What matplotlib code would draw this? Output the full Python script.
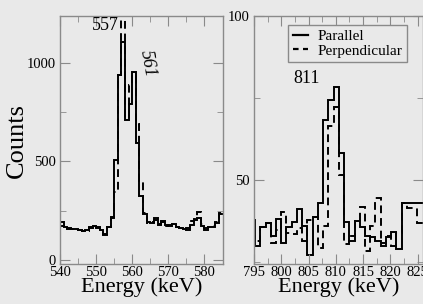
import numpy as np
import matplotlib
matplotlib.use('Agg')
import matplotlib.pyplot as plt
from matplotlib.ticker import MultipleLocator

plt.rcParams['font.family'] = ['Liberation Serif', 'DejaVu Serif']

# left panel: 557 / 561 keV doublet, 1 keV bins starting at 540
left_bins = np.arange(540, 585)
left_parallel = [170, 165, 160, 158, 155, 152, 146, 150, 160, 173,
                 165, 150, 130, 165, 216, 505, 941, 1110, 713, 790,
                 955, 595, 325, 233, 190, 185, 210, 177, 195, 175,
                 170, 180, 165, 160, 158, 150, 175, 200, 210, 170,
                 150, 165, 165, 185, 230]
left_perp = [190, 170, 158, 155, 152, 150, 145, 148, 165, 170,
             160, 148, 128, 168, 210, 345, 940, 1250, 720, 890,
             940, 690, 400, 235, 185, 190, 200, 180, 190, 170,
             175, 172, 168, 160, 155, 160, 195, 205, 245, 180,
             160, 165, 170, 190, 240]

# right panel: 811 keV line
right_start = 794.24
right_width = 0.96
right_parallel = [38, 30.1, 35.7, 37, 32.9, 38.2, 30.9, 35.7, 37.3, 41.2, 36.2, 27.1, 38.7,
                  43.2, 68.2, 74.3, 78.4, 58.2,
                  37.2, 31.6, 37.7, 35.7, 33.1, 32.6, 31.6, 30.1, 32.6, 34.2, 29.1,
                  43.2, 43.2, 43.2, 43.2]
right_perp = [33, 31.6, 35.7, 37, 31.0, 35, 40.2, 34, 33.5, 35.5, 31.5, 38, 38.7,
              29.5, 36.2, 66.4, 72.4, 51.5,
              30.5, 33, 37.5, 42, 28.5, 36, 44.5, 31, 33, 30, 34,
              43.2, 41.7, 41.7, 37]

bg = '#e9e9e9'
spine = '#8a8a8a'

fig = plt.figure(figsize=(4.23, 3.04), dpi=100, facecolor=bg)
ax1 = fig.add_axes([60/423, 1-264/304, 162.5/423, 248/304], facecolor=bg)
ax2 = fig.add_axes([254/423, 1-264/304, 169/423, 248/304], facecolor=bg)

left_edges = np.r_[left_bins, left_bins[-1] + 1]
ax1.stairs(left_parallel, left_edges, color='black', lw=1.4, baseline=None)
ax1.stairs(left_perp, left_edges, color='black', lw=1.4, ls=(0, (4, 2.5)), baseline=None)
ax1.set_xlim(540, 585)
ax1.set_ylim(-22, 1240)
ax1.xaxis.set_major_locator(MultipleLocator(10))
ax1.xaxis.set_minor_locator(MultipleLocator(5))
ax1.yaxis.set_major_locator(MultipleLocator(500))
ax1.yaxis.set_minor_locator(MultipleLocator(250))
ax1.set_ylabel('Counts', fontsize=19, labelpad=-1)
ax1.set_xlabel('Energy (keV)', fontsize=16, labelpad=-1)
ax1.text(556.2, 1190, '557', fontsize=13, ha='right', va='center')
ax1.text(564.2, 1000, '561', fontsize=13, ha='center', va='center', rotation=-80, style='italic')

right_edges = right_start + right_width * np.arange(len(right_parallel) + 1)
ax2.stairs(right_parallel, right_edges, color='black', lw=1.4, baseline=None)
ax2.stairs(right_perp, right_edges, color='black', lw=1.4, ls=(0, (4, 2.5)), baseline=None)
ax2.set_xlim(795, 826)
ax2.set_ylim(24.5, 100)
ax2.xaxis.set_major_locator(MultipleLocator(5))
ax2.xaxis.set_minor_locator(MultipleLocator(2.5))
ax2.yaxis.set_major_locator(MultipleLocator(50))
ax2.yaxis.set_minor_locator(MultipleLocator(25))
ax2.set_xlabel('Energy (keV)', fontsize=16, labelpad=-1)
ax2.text(804.6, 81, '811', fontsize=13, ha='center', va='center')
h1 = plt.Line2D([], [], color='black', lw=1.6)
h2 = plt.Line2D([], [], color='black', lw=1.6, ls=(0, (2.5, 2)))
leg = ax2.legend([h1, h2], ['Parallel', 'Perpendicular'], loc='upper right',
                 bbox_to_anchor=(0.905, 0.964), fontsize=11, handlelength=1.0,
                 handletextpad=0.6, borderpad=0.3, labelspacing=0.05,
                 fancybox=False, framealpha=1, facecolor=bg, edgecolor=spine,
                 borderaxespad=0)
leg.get_frame().set_linewidth(1.0)

for ax in (ax1, ax2):
    for s in ax.spines.values():
        s.set_color(spine)
        s.set_linewidth(1.0)
    ax.tick_params(which='both', direction='in', top=True, right=True,
                   color=spine, labelsize=10.5)
    ax.tick_params(axis='x', which='both', pad=1.5)
    ax.tick_params(axis='y', which='both', pad=3)
    ax.tick_params(which='major', length=7)
    ax.tick_params(which='minor', length=4)

fig.savefig('out.png', dpi=100, facecolor=bg)
